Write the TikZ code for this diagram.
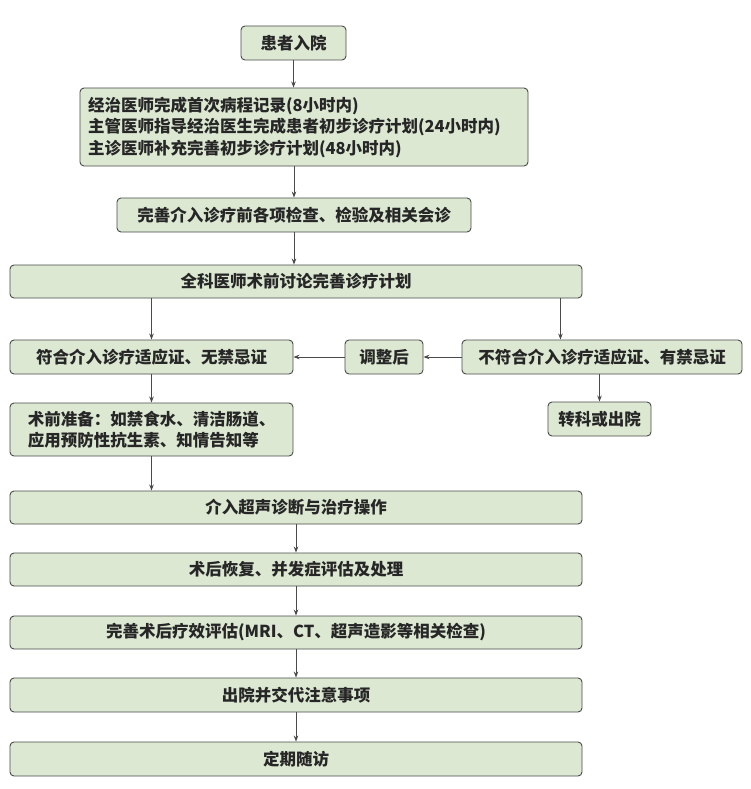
\documentclass[tikz,border=0pt]{standalone}
\usepackage{fontspec}
\setmainfont{Noto Sans CJK SC}
\usepackage{tikz}
\usetikzlibrary{arrows.meta,calc}
\definecolor{boxgreen}{HTML}{DCE8D2}
\definecolor{boxline}{HTML}{4A4A4A}

\begin{document}
\begin{tikzpicture}[x=1pt,y=-1pt,>={Stealth[length=6pt,width=4.5pt]},
  box/.style={draw=boxline,fill=boxgreen,rounded corners=4pt,line width=0.9pt,
    minimum height=34pt,inner sep=3pt,font=\fontsize{16.5}{21.5}\selectfont\bfseries,text=black!85},
  wide/.style={box,minimum width=572pt},
  half/.style={box,minimum width=283pt}]
  \useasboundingbox (0,0) rectangle (750,789);
  \node[box,minimum width=105pt] (admit) at (293.5,43) {患者入院};
  \node[box,minimum width=448pt,minimum height=78pt,align=left,text width=432pt] (plan) at (304,127)
    {经治医师完成首次病程记录(8小时内)\\主管医师指导经治医生完成患者初步诊疗计划(24小时内)\\主诊医师补充完善初步诊疗计划(48小时内)};
  \node[box,minimum width=354pt] (check) at (294,215) {完善介入诊疗前各项检查、检验及相关会诊};
  \node[wide,minimum height=33pt] (discuss) at (296,281.5) {全科医师术前讨论完善诊疗计划};
  \node[half] (fit) at (151.5,357) {符合介入诊疗适应证、无禁忌证};
  \node[box,minimum width=78pt] (adjust) at (384,357) {调整后};
  \node[box,minimum width=280pt] (unfit) at (602,357) {不符合介入诊疗适应证、有禁忌证};
  \node[box,minimum width=103pt] (transfer) at (599.5,419) {转科或出院};
  \node[half,minimum height=53pt,align=left] (prep) at (151.5,429.5)
    {术前准备：如禁食水、清洁肠道、\\应用预防性抗生素、知情告知等};
  \node[wide,minimum height=33pt] (oper) at (296,507.5) {介入超声诊断与治疗操作};
  \node[wide,minimum height=33pt] (recov) at (296,569.5) {术后恢复、并发症评估及处理};
  \node[wide,minimum height=33pt] (eval) at (296,632.5) {完善术后疗效评估(MRI、CT、超声造影等相关检查)};
  \node[wide] (disch) at (296,695) {出院并交代注意事项};
  \node[wide] (follow) at (296,759) {定期随访};

  \draw[->,boxline,line width=0.8pt] (admit.south) -- (admit.south |- plan.north);
  \draw[->,boxline,line width=0.8pt] (check.north |- plan.south) -- (check.north);
  \draw[->,boxline,line width=0.8pt] (check.south) -- (check.south |- discuss.north);
  \draw[->,boxline,line width=0.8pt] (fit.north |- discuss.south) -- (fit.north);
  \draw[->,boxline,line width=0.8pt] ([xshift=-22pt]discuss.south east) -- ([xshift=-22pt]discuss.south east |- unfit.north);
  \draw[->,boxline,line width=0.8pt] (unfit.west) -- (adjust.east);
  \draw[->,boxline,line width=0.8pt] (adjust.west) -- (fit.east);
  \draw[->,boxline,line width=0.8pt] (unfit.south -| transfer.north) -- (transfer.north);
  \draw[->,boxline,line width=0.8pt] (fit.south) -- (prep.north);
  \draw[->,boxline,line width=0.8pt] (prep.south) -- (prep.south |- oper.north);
  \draw[->,boxline,line width=0.8pt] (oper.south) -- (recov.north);
  \draw[->,boxline,line width=0.8pt] (recov.south) -- (eval.north);
  \draw[->,boxline,line width=0.8pt] (eval.south) -- (disch.north);
  \draw[->,boxline,line width=0.8pt] (disch.south) -- (follow.north);
\end{tikzpicture}
\end{document}
